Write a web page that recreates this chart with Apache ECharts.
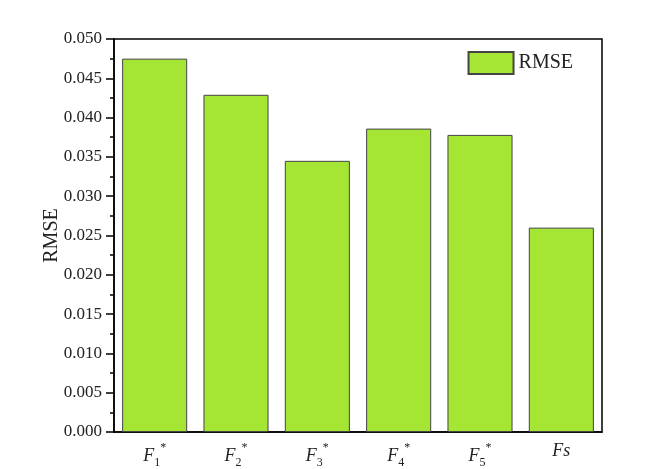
<!DOCTYPE html>
<html>
<head>
<meta charset="utf-8">
<script src="https://cdn.jsdelivr.net/npm/echarts@6/dist/echarts.min.js"></script>
<style>html,body{margin:0;padding:0;background:#fff}#c{width:665px;height:469px}</style>
</head>
<body>
<div id="c"></div>
<script>
const categories = ['F1*', 'F2*', 'F3*', 'F4*', 'F5*', 'Fs'];
const labelParts = [['F','1','*'], ['F','2','*'], ['F','3','*'], ['F','4','*'], ['F','5','*'], ['Fs','','']];
const rmse = [0.0475, 0.0429, 0.0345, 0.0386, 0.0378, 0.0260];
const yTicks = [0, 0.005, 0.010, 0.015, 0.020, 0.025, 0.030, 0.035, 0.040, 0.045, 0.050];

const font = '"Liberation Serif", "Times New Roman", serif';
const chart = echarts.init(document.getElementById('c'));
chart.setOption({
  animation: false,
  backgroundColor: '#fff',
  grid: { left: 114, right: 63, top: 39, bottom: 37, show: true, borderColor: '#000', borderWidth: 1.5, containLabel: false },
  legend: {
    data: ['RMSE'], right: 87, top: 46, itemWidth: 45, itemHeight: 22, itemGap: 6,
    icon: 'rect',
    textStyle: { fontFamily: font, fontSize: 20, color: '#222' }
  },
  xAxis: {
    type: 'category', data: categories,
    axisLine: { lineStyle: { color: '#000', width: 1.5 } },
    axisTick: { show: false },
    axisLabel: {
      margin: 10, interval: 0,
      formatter: function (v, i) {
        const p = labelParts[i];
        let s = '{f|' + p[0] + '}';
        if (p[1]) s += '{sub|' + p[1] + '}';
        if (p[2]) s += '{sup|' + p[2] + '}';
        return s;
      },
      rich: {
        f: { fontFamily: font, fontStyle: 'italic', fontSize: 18, color: '#222', verticalAlign: 'middle' },
        sub: { fontFamily: font, fontSize: 12, color: '#222', padding: [14, 0, 0, 0] },
        sup: { fontFamily: font, fontSize: 12, color: '#222', padding: [0, 0, 16, 0] }
      }
    }
  },
  yAxis: {
    type: 'value', min: 0, max: 0.05, interval: 0.005,
    name: 'RMSE', nameLocation: 'middle', nameGap: 52, nameRotate: 90, nameMoveOverlap: false,
    nameTextStyle: { fontFamily: font, fontSize: 20, color: '#222' },
    axisLine: { show: true, lineStyle: { color: '#000', width: 1.5 } },
    axisTick: { show: true, length: 8, lineStyle: { color: '#000', width: 1.5 } },
    minorTick: { show: true, splitNumber: 2, length: 4, lineStyle: { color: '#000', width: 1.5 } },
    splitLine: { show: false },
    axisLabel: {
      margin: 12, fontFamily: font, fontSize: 17, color: '#222',
      formatter: function (v) { return v.toFixed(3); }
    }
  },
  series: [{
    name: 'RMSE', type: 'bar', data: rmse, barWidth: '80%',
    itemStyle: { color: '#A5E635', borderColor: '#444', borderWidth: 1 }
  }]
});
</script>
</body>
</html>
